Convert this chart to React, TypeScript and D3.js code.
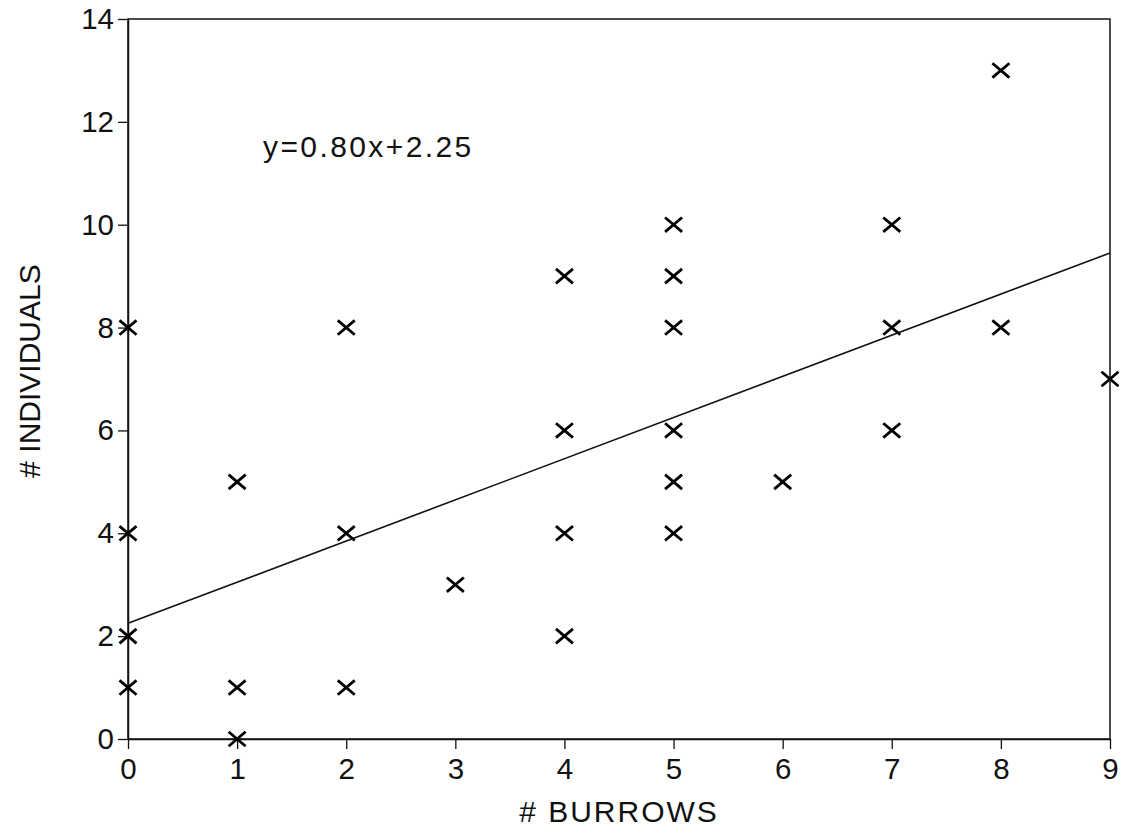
import React, { useEffect, useRef } from "react";
import * as d3 from "d3";

// burrows per plot and individuals counted
const burrows = [0, 0, 0, 0, 1, 1, 1, 2, 2, 2, 3, 4, 4, 4, 4, 5, 5, 5, 5, 5, 5, 6, 7, 7, 7, 8, 8, 9];
const individuals = [8, 4, 2, 1, 5, 1, 0, 8, 4, 1, 3, 9, 6, 4, 2, 10, 9, 8, 6, 5, 4, 5, 10, 8, 6, 13, 8, 7];
const xTicks = [0, 1, 2, 3, 4, 5, 6, 7, 8, 9];
const yTicks = [0, 2, 4, 6, 8, 10, 12, 14];
const slope = 0.8;
const intercept = 2.25;

const W = 1128;
const H = 836;
const margin = { top: 19, right: 18, bottom: 97, left: 128 };
const font = "'Liberation Sans', Arial, Helvetica, sans-serif";

export default function App() {
  const ref = useRef<SVGSVGElement>(null);

  useEffect(() => {
    const svg = d3.select(ref.current);
    svg.selectAll("*").remove();

    const x = d3.scaleLinear().domain([0, 9]).range([margin.left, W - margin.right]);
    const y = d3.scaleLinear().domain([0, 14]).range([H - margin.bottom, margin.top]);

    // frame
    svg
      .append("rect")
      .attr("x", x(0))
      .attr("y", y(14))
      .attr("width", x(9) - x(0))
      .attr("height", y(0) - y(14))
      .attr("fill", "none")
      .attr("stroke", "#111")
      .attr("stroke-width", 1.5);

    // x axis
    const gx = svg
      .append("g")
      .attr("transform", `translate(0,${y(0)})`)
      .call(d3.axisBottom(x).tickValues(xTicks).tickFormat(d3.format("d")).tickSize(10).tickSizeOuter(0).tickPadding(9));
    gx.select(".domain").attr("stroke", "#111").attr("stroke-width", 1.5);
    gx.selectAll(".tick line").attr("stroke", "#111").attr("stroke-width", 1.3);
    gx.selectAll(".tick text")
      .attr("font-family", font)
      .attr("font-size", 29.5)
      .attr("fill", "#111");

    // y axis
    const gy = svg
      .append("g")
      .attr("transform", `translate(${x(0)},0)`)
      .call(d3.axisLeft(y).tickValues(yTicks).tickFormat(d3.format("d")).tickSize(10).tickSizeOuter(0).tickPadding(4));
    gy.select(".domain").attr("stroke", "#111").attr("stroke-width", 1.5);
    gy.selectAll(".tick line").attr("stroke", "#111").attr("stroke-width", 1.3);
    gy.selectAll(".tick text")
      .attr("font-family", font)
      .attr("font-size", 29.5)
      .attr("fill", "#111");

    // regression line
    svg
      .append("line")
      .attr("x1", x(0))
      .attr("y1", y(intercept))
      .attr("x2", x(9))
      .attr("y2", y(slope * 9 + intercept))
      .attr("stroke", "#111")
      .attr("stroke-width", 1.6);

    // x markers
    const s = 8.5;
    const pts = burrows.map((b, i) => [x(b), y(individuals[i])]);
    svg
      .append("g")
      .selectAll("path")
      .data(pts)
      .join("path")
      .attr("d", ([px, py]) => `M${px - s},${py - s * 0.85}L${px + s},${py + s * 0.85}M${px - s},${py + s * 0.85}L${px + s},${py - s * 0.85}`)
      .attr("stroke", "#000")
      .attr("stroke-width", 2.8)
      .attr("fill", "none");

    // equation
    svg
      .append("text")
      .attr("x", 263)
      .attr("y", 157)
      .attr("font-family", font)
      .attr("font-size", 30)
      .attr("letter-spacing", 2.4)
      .attr("fill", "#111")
      .text(`y=${slope.toFixed(2)}x+${intercept.toFixed(2)}`);

    // axis titles
    svg
      .append("text")
      .attr("x", (x(0) + x(9)) / 2)
      .attr("y", 822)
      .attr("text-anchor", "middle")
      .attr("font-family", font)
      .attr("font-size", 30)
      .attr("letter-spacing", 2)
      .attr("fill", "#111")
      .text("# BURROWS");

    svg
      .append("text")
      .attr("transform", `translate(40,${371}) rotate(-90)`)
      .attr("text-anchor", "middle")
      .attr("font-family", font)
      .attr("font-size", 30)
      .attr("fill", "#111")
      .text("# INDIVIDUALS");
  }, []);

  return (
    <svg
      ref={ref}
      width={W}
      height={H}
      style={{ position: "absolute", left: 0, top: 0, background: "#fff" }}
    />
  );
}
